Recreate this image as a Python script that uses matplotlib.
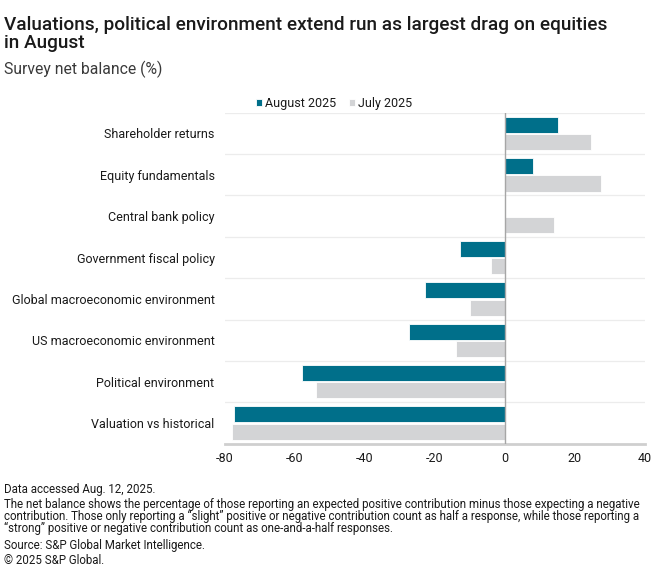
import matplotlib
matplotlib.use("Agg")
import matplotlib.pyplot as plt
import numpy as np

categories = ["Shareholder returns", "Equity fundamentals", "Central bank policy",
              "Government fiscal policy", "Global macroeconomic environment",
              "US macroeconomic environment", "Political environment",
              "Valuation vs historical"]
august_2025 = [15, 8, 0, -13, -23, -27.5, -58, -77.5]
july_2025 = [24.5, 27.5, 14, -4, -10, -14, -54, -78]
series_names = ["August 2025", "July 2025"]
x_ticks = [-80, -60, -40, -20, 0, 20, 40]

title_lines = ["Valuations, political environment extend run as largest drag on equities", "in August"]
subtitle = "Survey net balance (%)"
footnotes = [
    "Data accessed Aug. 12, 2025.",
    "The net balance shows the percentage of those reporting an expected positive contribution minus those expecting a negative",
    "contribution. Those only reporting a \u201cslight\u201d positive or negative contribution count as half a response, while those reporting a",
    "\u201cstrong\u201d positive or negative contribution count as one-and-a-half responses.",
    "Source: S&P Global Market Intelligence.",
    "\u00a9 2025 S&P Global.",
]

teal = "#006f8a"
grey = "#d3d4d6"
txt = "#1a1a1a"

plt.rcParams['font.family'] = ['Roboto', 'DejaVu Sans']

W, H = 660, 577
fig = plt.figure(figsize=(6.6, 5.77), dpi=100)
ax = fig.add_axes([225/W, 1-443.7/H, 420/W, 331/H])

n = len(categories)
y = np.arange(n)
h = 0.39
ax.barh(y - 0.21, august_2025, height=h, color=teal, edgecolor="white", linewidth=0.6,
        label=series_names[0], zorder=2)
ax.barh(y + 0.21, july_2025, height=h, color=grey, edgecolor="white", linewidth=0.6,
        label=series_names[1], zorder=2)

ax.set_ylim(n - 0.5, -0.5)
ax.set_xlim(-80, 40)
ax.set_xticks(x_ticks)
ax.set_xticklabels([str(t) for t in x_ticks], fontsize=9, color=txt)
ax.set_yticks(y)
ax.set_yticklabels(categories, fontsize=9, color=txt)
ax.tick_params(axis='both', length=0)
ax.tick_params(axis='y', pad=7.5)
ax.tick_params(axis='x', pad=6)

for b in np.arange(-0.5, n - 0.5, 1.0):
    ax.axhline(b, color="#ececec", linewidth=0.9, zorder=1)
ax.axvline(0, color="#a6a6a6", linewidth=1.0, zorder=3)

for s in ["top", "right", "left"]:
    ax.spines[s].set_visible(False)
ax.spines["bottom"].set_color("#cfcfcf")
ax.spines["bottom"].set_linewidth(2)

leg = fig.legend(*ax.get_legend_handles_labels(), loc="center left",
                 bbox_to_anchor=(256/W, 1-103.5/H), bbox_transform=fig.transFigure,
                 ncol=2, frameon=False, fontsize=9, handlelength=0.5, handleheight=0.5,
                 handletextpad=0.25, columnspacing=1.0, borderpad=0, borderaxespad=0)
for t in leg.get_texts():
    t.set_color(txt)

renderer = fig.canvas.get_renderer()

def fit_width(tobj, target_px):
    fs = tobj.get_fontsize()
    for _ in range(3):
        wpx = tobj.get_window_extent(renderer=renderer).width
        fs = fs * target_px / wpx
        tobj.set_fontsize(fs)
    return fs

t1 = fig.text(4/W, 1-30/H, title_lines[0], fontsize=13, fontweight="medium", color=txt,
              va="baseline", ha="left")
fs_title = fit_width(t1, 602)
fig.text(4/W, 1-48.5/H, title_lines[1], fontsize=fs_title, fontweight="medium", color=txt,
         va="baseline", ha="left")

st = fig.text(4/W, 1-74.5/H, subtitle, fontsize=11, color="#3a3a3a", va="baseline", ha="left")
fit_width(st, 158)

foot_y = [492.5, 508, 520, 532, 549, 564.5]
ft = [fig.text(4/W, 1-yy/H, s, fontsize=8, color=txt, va="baseline", ha="left")
      for yy, s in zip(foot_y, footnotes)]
fs_foot = fit_width(ft[1], 638)
for t in ft:
    t.set_fontsize(fs_foot)

fig.savefig("out.png", dpi=100)
